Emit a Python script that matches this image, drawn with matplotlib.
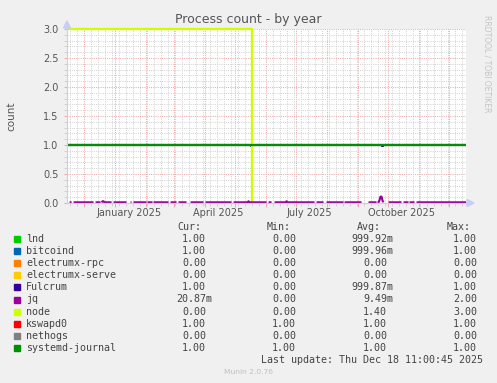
import matplotlib
matplotlib.use('Agg')
import matplotlib.pyplot as plt
import matplotlib.dates as mdates
from matplotlib.patches import Rectangle, Polygon
from matplotlib.ticker import MultipleLocator, NullFormatter, FormatStrFormatter
import numpy as np
import pandas as pd

# ---------------- data ----------------
title = 'Process count - by year'
ylabel = 'count'
x_start = '2024-11-14 11:00'
x_end = '2025-12-18 11:00'

series = ['lnd', 'bitcoind', 'electrumx-rpc', 'electrumx-serve', 'Fulcrum',
          'jq', 'node', 'kswapd0', 'nethogs', 'systemd-journal']
colors = ['#00CC00', '#0066B3', '#FF8000', '#FFCC00', '#330099',
          '#990099', '#CCFF00', '#FF0000', '#808080', '#008F00']
cur_vals = [1.0, 1.0, 0.0, 0.0, 1.0, 0.02087, 0.0, 1.0, 0.0, 1.0]
min_vals = [0.0, 0.0, 0.0, 0.0, 0.0, 0.0, 0.0, 1.0, 0.0, 1.0]
avg_vals = [0.99992, 0.99996, 0.0, 0.0, 0.99987, 0.00949, 1.40, 1.0, 0.0, 1.0]
max_vals = [1.0, 1.0, 0.0, 0.0, 1.0, 2.0, 3.0, 1.0, 0.0, 1.0]

# time series (breakpoints)
one_dates = [x_start, x_end]
one_vals = [1.0, 1.0]
fulcrum_dates = [x_start, '2025-05-16', '2025-05-17', '2025-05-18',
                 '2025-09-24', '2025-09-25', '2025-09-26', x_end]
fulcrum_vals = [1.0, 1.0, 0.98, 1.0, 1.0, 0.98, 1.0, 1.0]
node_dates = [x_start, '2025-05-18']
node_vals = [3.0, 0.0]

jb = 0.012  # jq daily average level
nan = np.nan
jq_dates = [
    '2024-11-14 11:00', '2024-11-15', '2024-11-16',
    '2024-11-17', '2024-11-19', '2024-11-20',
    '2024-11-21', '2024-12-11', '2024-12-12',
    '2024-12-13', '2024-12-18', '2024-12-18 12:00',
    '2024-12-19', '2024-12-20', '2024-12-21', '2024-12-22', '2024-12-29', '2024-12-30',
    '2024-12-31', '2025-01-13', '2025-01-15',
    '2025-01-17', '2025-01-18', '2025-01-19',
    '2025-01-20', '2025-02-02', '2025-02-02 12:00',
    '2025-02-03', '2025-02-08', '2025-02-08 12:00',
    '2025-02-09', '2025-02-24', '2025-02-25',
    '2025-02-26', '2025-03-04', '2025-03-05',
    '2025-03-06', '2025-03-14', '2025-03-16',
    '2025-03-18', '2025-03-31', '2025-04-01',
    '2025-04-02', '2025-04-28', '2025-04-29',
    '2025-04-30', '2025-05-14', '2025-05-15', '2025-05-16', '2025-06-02', '2025-06-03',
    '2025-06-04', '2025-06-07', '2025-06-08',
    '2025-06-10', '2025-06-21', '2025-06-22', '2025-06-23', '2025-07-20', '2025-07-21',
    '2025-07-22', '2025-07-29', '2025-07-30',
    '2025-08-01', '2025-08-18', '2025-08-18 12:00',
    '2025-08-19', '2025-09-05', '2025-09-08',
    '2025-09-12', '2025-09-20', '2025-09-20 12:00',
    '2025-09-21', '2025-09-22', '2025-09-23', '2025-09-24', '2025-09-25', '2025-09-26',
    '2025-09-27', '2025-09-29',
    '2025-10-02', '2025-10-15', '2025-10-16',
    '2025-10-17', '2025-10-22', '2025-10-22 12:00',
    '2025-10-23', '2025-10-28', '2025-10-29',
    '2025-10-30', '2025-12-18 11:00']
jq_vals = [
    jb, jb, nan,
    jb, jb, nan,
    jb, jb, nan,
    jb, jb, nan,
    jb, 0.03, 0.03, jb, jb, nan,
    jb, jb, nan,
    jb, jb, nan,
    jb, jb, nan,
    jb, jb, nan,
    jb, jb, nan,
    jb, jb, nan,
    jb, jb, nan,
    jb, jb, nan,
    jb, jb, nan,
    jb, jb, 0.03, jb, jb, nan,
    jb, jb, nan,
    jb, jb, 0.03, jb, jb, nan,
    jb, jb, nan,
    jb, jb, nan,
    jb, jb, nan,
    jb, jb, nan,
    jb, jb, 0.05, 0.11, 0.11, 0.04,
    jb, nan,
    jb, jb, nan,
    jb, jb, nan,
    jb, jb, nan,
    jb, jb]

month_labels = ['January 2025', 'April 2025', 'July 2025', 'October 2025']
month_label_dates = ['2025-01-15', '2025-04-15', '2025-07-15', '2025-10-15']
last_update = 'Last update: Thu Dec 18 11:00:45 2025'
munin_version = 'Munin 2.0.76'
side_text = 'RRDTOOL / TOBI OETIKER'

# ---------------- figure ----------------
W, H = 497, 383
BG = '#F0F0F0'
TXT = '#555555'
AXC = '#C8CCF8'
MAJ = '#EBA8A8'
MIN = '#D2D2D2'

fig = plt.figure(figsize=(W / 100, H / 100), dpi=100, facecolor=BG)
L, R, T, B = 67, 466, 29, 203
ax = fig.add_axes([L / W, 1 - B / H, (R - L) / W, (B - T) / H])
ax.set_facecolor('white')


def td(lst):
    return pd.to_datetime(lst, format='mixed')


lw = 1.5
kw = dict(lw=lw, solid_capstyle='butt')

ax.plot(td(one_dates), one_vals, color=colors[0], zorder=3, **kw)
ax.plot(td(one_dates), one_vals, color=colors[1], zorder=3, **kw)
ax.plot(td(fulcrum_dates), fulcrum_vals, color=colors[4], zorder=3,
        drawstyle='steps-post', **kw)
ax.plot(td(node_dates), node_vals, color=colors[6], zorder=3,
        drawstyle='steps-post', clip_on=False, lw=1.7, solid_capstyle='butt')
ax.plot(td(jq_dates), jq_vals, color=colors[5], zorder=4, **kw)
ax.plot(td(one_dates), one_vals, color=colors[7], zorder=4, **kw)
ax.plot(td(one_dates), one_vals, color=colors[9], zorder=5, **kw)

ax.set_xlim(pd.Timestamp(x_start), pd.Timestamp(x_end))
ax.set_ylim(0, 3)

# grids
ax.xaxis.set_major_locator(mdates.MonthLocator())
ax.xaxis.set_minor_locator(mdates.WeekdayLocator(byweekday=mdates.SU))
ax.xaxis.set_major_formatter(NullFormatter())
ax.yaxis.set_major_locator(MultipleLocator(0.5))
ax.yaxis.set_minor_locator(MultipleLocator(0.1))
ax.yaxis.set_major_formatter(FormatStrFormatter('%.1f'))
ax.grid(which='minor', color=MIN, lw=0.72, ls=(0, (1, 1.2)), zorder=1)
ax.grid(which='major', color=MAJ, lw=0.72, ls=(0, (1, 1.2)), zorder=1)
ax.set_axisbelow(True)
ax.tick_params(which='both', direction='out', length=2, width=0.7)
ax.tick_params(axis='x', which='major', colors=MAJ, length=3)
ax.tick_params(axis='x', which='minor', colors=MIN)
ax.tick_params(axis='y', which='major', colors=MAJ, length=2, pad=4,
               labelcolor=TXT, labelsize=7)
ax.tick_params(axis='y', which='minor', colors=MIN, length=2)

for lbl, d in zip(month_labels, month_label_dates):
    ax.text(pd.Timestamp(d), -0.03, lbl, transform=ax.get_xaxis_transform(),
            ha='center', va='top', fontsize=7, color=TXT)

for s in ['top', 'right']:
    ax.spines[s].set_visible(False)
for s in ['left', 'bottom']:
    ax.spines[s].set_color(AXC)
    ax.spines[s].set_linewidth(0.8)
    ax.spines[s].set_zorder(6)

# arrows
fig.patches.append(Polygon([[L - 3.5, H - 28], [L + 3.5, H - 28], [L, H - 21]],
                           closed=True, transform=None, color=AXC, zorder=10))
fig.patches.append(Polygon([[R + 1, H - B - 3.5], [R + 1, H - B + 3.5], [R + 8, H - B]],
                           closed=True, transform=None, color=AXC, zorder=10))

# texts
fig.text(0.5, 1 - 19 / H, title, ha='center', va='center', fontsize=9, color=TXT)
fig.text(11 / W, 1 - 116 / H, ylabel, ha='center', va='center', rotation=90,
         fontsize=7.5, color=TXT)
fig.text(487 / W, 1 - 15 / H, side_text, ha='center', va='top', rotation=270,
         fontsize=5.5, color='#C4C4C4')

# legend
MONO = 'DejaVu Sans Mono'
FS = 7.2
CW = 6.02
LC = '#444444'


def fmt(v):
    if v != 0 and abs(v) < 1:
        return '%.2f' % (v * 1000), 'm'
    return '%.2f' % v, ''


def fx(px):
    return px / W


def fy(py):
    return 1 - py / H


header_y = 227
for h, hx in zip(['Cur:', 'Min:', 'Avg:', 'Max:'], [177, 267, 357, 447]):
    fig.text(fx(hx), fy(header_y), h, ha='left', va='center', family=MONO,
             fontsize=FS, color=LC)

col_right = [212, 302, 393, 483]
for i, name in enumerate(series):
    y = 239 + 12.1 * i
    fig.patches.append(Rectangle((fx(14), fy(y + 3)), 6 / W, 6 / H,
                                 transform=fig.transFigure, color=colors[i]))
    fig.text(fx(26), fy(y), name, ha='left', va='center', family=MONO,
             fontsize=FS, color=LC)
    for cr, arr in zip(col_right, [cur_vals, min_vals, avg_vals, max_vals]):
        num, suf = fmt(arr[i])
        xr = cr if suf else cr - CW
        fig.text(fx(xr), fy(y), num + suf, ha='right', va='center', family=MONO,
                 fontsize=FS, color=LC)

fig.text(fx(483), fy(360), last_update, ha='right', va='center', family=MONO,
         fontsize=FS, color=LC)
fig.text(0.5, fy(372), munin_version, ha='center', va='center', fontsize=5.4,
         color='#C0C0C0')

fig.savefig('out.png', dpi=100, facecolor=BG)
